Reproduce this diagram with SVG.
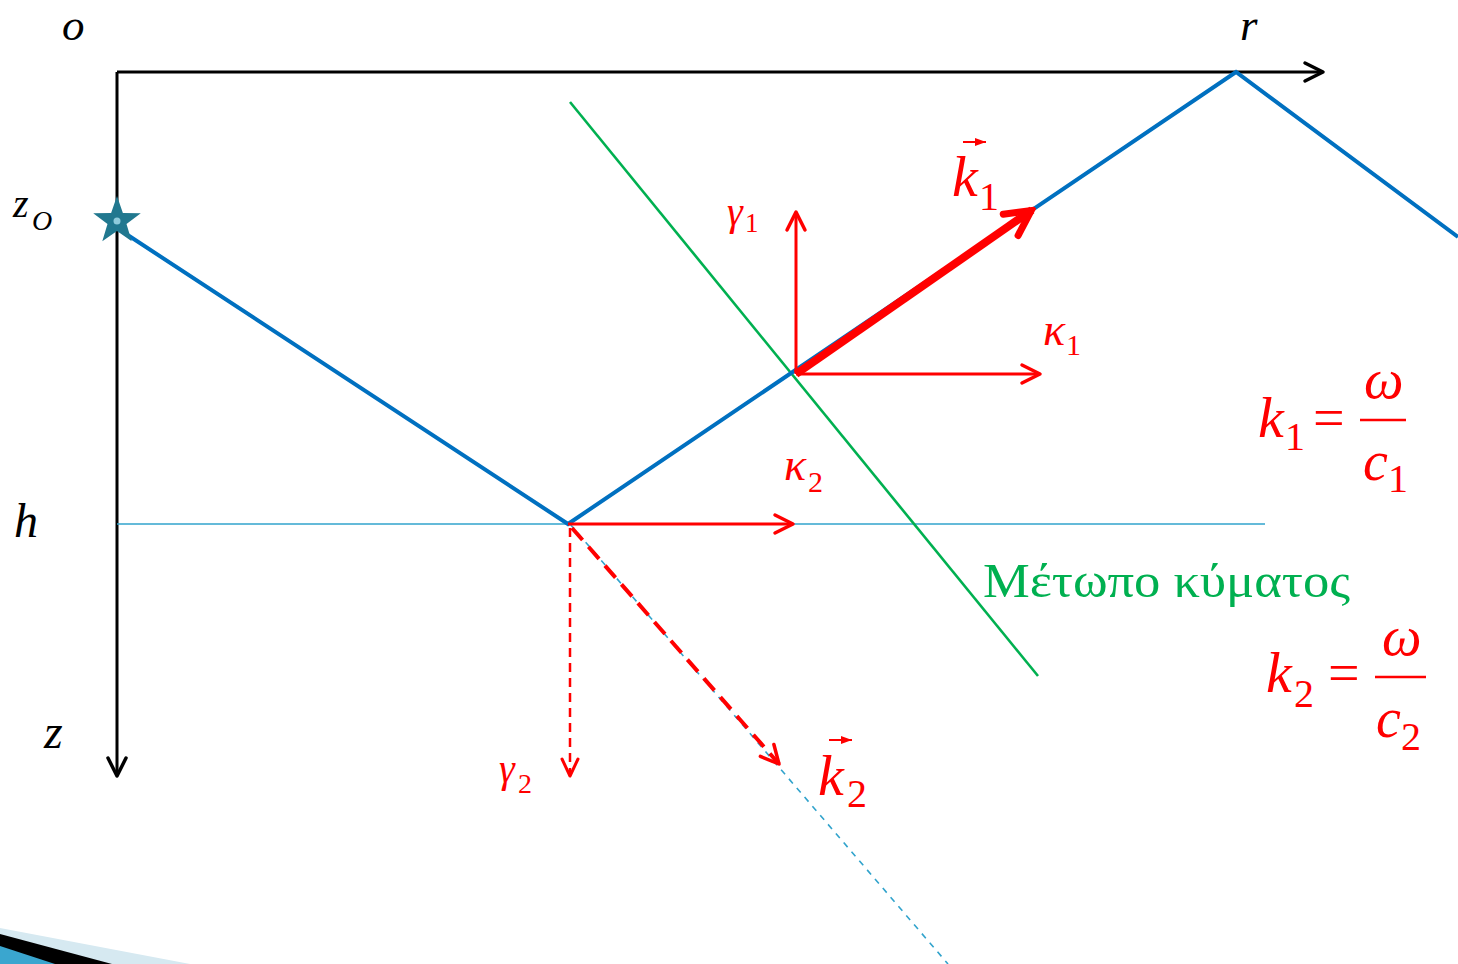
<svg xmlns="http://www.w3.org/2000/svg" width="1458" height="964" viewBox="0 0 1458 964">
<defs>
<style>
.m{font-family:"Liberation Serif","DejaVu Serif",serif;font-style:italic}
.n{font-family:"Liberation Serif","DejaVu Serif",serif;font-style:normal}
.blk{fill:#000}
.red{fill:#FF0000}
.ray{fill:none;stroke:#0070C0;stroke-width:4;stroke-linejoin:miter}
.ra{fill:none;stroke:#FF0000;stroke-width:3}
</style>
<marker id="hb" viewBox="0 0 24 24" markerWidth="24" markerHeight="24" refX="21" refY="12" orient="auto" markerUnits="userSpaceOnUse">
<path d="M3,3 L21,12 L3,21" fill="none" stroke="#000" stroke-width="3.5" stroke-linecap="round" stroke-linejoin="round"/>
</marker>
<marker id="hr" viewBox="0 0 24 24" markerWidth="24" markerHeight="24" refX="21" refY="12" orient="auto" markerUnits="userSpaceOnUse">
<path d="M3,3 L21,12 L3,21" fill="none" stroke="#FF0000" stroke-width="3.5" stroke-linecap="round" stroke-linejoin="round"/>
</marker>
<marker id="hr2" viewBox="0 0 24 24" markerWidth="24" markerHeight="24" refX="21" refY="12" orient="auto" markerUnits="userSpaceOnUse">
<path d="M4,4 L21,12 L4,20" fill="none" stroke="#FF0000" stroke-width="3" stroke-linecap="round" stroke-linejoin="round"/>
</marker>
<marker id="hk" viewBox="0 0 36 36" markerWidth="36" markerHeight="36" refX="32" refY="18" orient="auto" markerUnits="userSpaceOnUse">
<path d="M6,5 L31,18 L6,31" fill="none" stroke="#FF0000" stroke-width="7" stroke-linecap="round" stroke-linejoin="miter"/>
</marker>
<marker id="hs" viewBox="0 0 12 12" markerWidth="12" markerHeight="12" refX="11" refY="6" orient="auto" markerUnits="userSpaceOnUse">
<path d="M0,2 L11,6 L0,10 Z" fill="#FF0000"/>
</marker>
</defs>
<rect width="1458" height="964" fill="#fff"/>

<g id="corner">
<polygon points="0,928 190,964 0,964" fill="#d6e9f1"/>
<polygon points="0,934 112,964 0,964" fill="#000"/>
<polygon points="0,946 55,964 0,964" fill="#3aa6cf"/>
</g>

<g id="connectors">
<line x1="117" y1="72" x2="1323" y2="72" stroke="#000" stroke-width="3" marker-end="url(#hb)"/>
<line x1="117" y1="72" x2="117" y2="776" stroke="#000" stroke-width="3" marker-end="url(#hb)"/>
<line x1="117" y1="524" x2="1265" y2="524" stroke="#31a3cc" stroke-width="1.6"/>
<line x1="570" y1="524" x2="948" y2="964" stroke="#31a3cc" stroke-width="1.6" stroke-dasharray="6 6"/>
<line x1="570" y1="102" x2="1038" y2="676" stroke="#00B050" stroke-width="2.6"/>
<polyline class="ray" points="117,228 568,524 1236,72 1458,237"/>
<line x1="796" y1="374" x2="796" y2="212" class="ra" marker-end="url(#hr)"/>
<line x1="796" y1="374" x2="1040" y2="374" class="ra" marker-end="url(#hr)"/>
<line x1="568" y1="524" x2="793" y2="524" class="ra" marker-end="url(#hr)"/>
<line x1="570" y1="528" x2="570" y2="776" fill="none" stroke="#FF0000" stroke-width="2.5" stroke-dasharray="9 6" marker-end="url(#hr2)"/>
<line x1="572" y1="528" x2="779" y2="764" fill="none" stroke="#FF0000" stroke-width="4" stroke-dasharray="16 9" marker-end="url(#hr)"/>
<line x1="796" y1="374" x2="1032" y2="210" stroke="#FF0000" stroke-width="8" marker-end="url(#hk)"/>
</g>

<g id="source">
<polygon transform="translate(117,221)" points="0,-25 5.88,-8.09 23.78,-7.73 9.51,3.09 14.69,20.23 0,10 -14.69,20.23 -9.51,3.09 -23.78,-7.73 -5.88,-8.09" fill="#21788f"/>
<circle cx="117" cy="221" r="3.5" fill="#8fcbdb"/>
</g>

<g id="axis-labels">
<text class="m blk" x="62" y="40" font-size="45">o</text>
<text class="m blk" x="1240" y="40" font-size="45">r</text>
<text class="m blk" x="13" y="217" font-size="40">z</text>
<text class="m blk" x="32" y="230" font-size="28">O</text>
<text class="m blk" x="14" y="537" font-size="48">h</text>
<text class="m blk" x="44" y="748" font-size="48">z</text>
</g>

<g id="vector-labels">
<text class="m red" x="727" y="225" font-size="40">γ</text>
<text class="n red" x="745" y="232" font-size="27">1</text>
<text class="m red" x="1043" y="345" font-size="46">κ</text>
<text class="n red" x="1066" y="355" font-size="30">1</text>
<text class="m red" x="784" y="480" font-size="46">κ</text>
<text class="n red" x="808" y="492" font-size="30">2</text>
<text class="m red" x="499" y="782" font-size="40">γ</text>
<text class="n red" x="518" y="793" font-size="28">2</text>
<text class="m red" x="952" y="196" font-size="58">k</text>
<text class="n red" x="979" y="210" font-size="40">1</text>
<line x1="963" y1="142" x2="986" y2="142" stroke="#FF0000" stroke-width="2" marker-end="url(#hs)"/>
<text class="m red" x="818" y="795" font-size="58">k</text>
<text class="n red" x="847" y="807" font-size="40">2</text>
<line x1="829" y1="740" x2="852" y2="740" stroke="#FF0000" stroke-width="2" marker-end="url(#hs)"/>
</g>

<g id="eq1">
<text class="m red" x="1258" y="437" font-size="58">k</text>
<text class="n red" x="1285" y="450" font-size="40">1</text>
<text class="n red" x="1313" y="437" font-size="56">=</text>
<line x1="1360" y1="420" x2="1406" y2="420" stroke="#FF0000" stroke-width="2.5"/>
<text class="m red" x="1364" y="398" font-size="56">ω</text>
<text class="m red" x="1363" y="480" font-size="56">c</text>
<text class="n red" x="1388" y="492" font-size="40">1</text>
</g>

<g id="eq2">
<text class="m red" x="1266" y="692" font-size="58">k</text>
<text class="n red" x="1294" y="707" font-size="40">2</text>
<text class="n red" x="1328" y="692" font-size="56">=</text>
<line x1="1375" y1="677" x2="1426" y2="677" stroke="#FF0000" stroke-width="2.5"/>
<text class="m red" x="1382" y="655" font-size="56">ω</text>
<text class="m red" x="1376" y="737" font-size="56">c</text>
<text class="n red" x="1401" y="750" font-size="40">2</text>
</g>

<g id="wavefront-label">
<text class="n" x="983" y="597" font-size="48" fill="#00B050" textLength="367" lengthAdjust="spacingAndGlyphs">Μέτωπο κύματος</text>
</g>
</svg>
